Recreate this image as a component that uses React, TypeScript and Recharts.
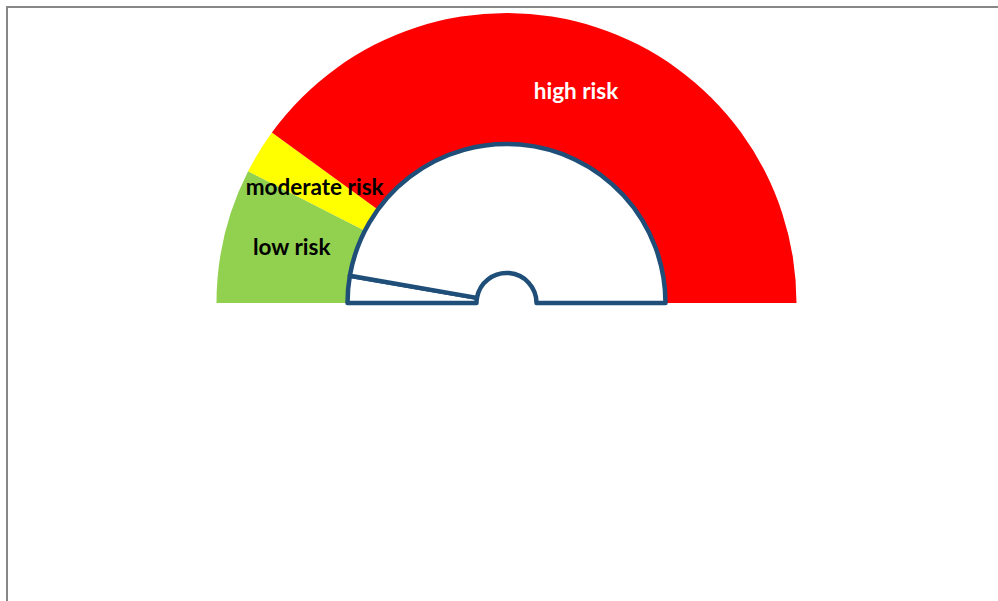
import React from 'react';
import { PieChart, Pie, Cell } from 'recharts';

const riskBands = ['low risk', 'moderate risk', 'high risk'];
const bandValues = [15, 5, 80];
const bandColors = ['#92D050', '#FFFF00', '#FF0000'];
const bandLabelColors = ['#000000', '#000000', '#FFFFFF'];

const pointerParts = ['needle', 'rest'];
const pointerValues = [5.5, 94.5];

const bandData = riskBands.map((name, i) => ({ name, value: bandValues[i] }));
const pointerData = pointerParts.map((name, i) => ({ name, value: pointerValues[i] }));

const RAD = Math.PI / 180;
// small nudges so labels sit where the original put them
const labelNudge = [
  [4, -4],
  [0, 1],
  [0, 1],
];

const renderBandLabel = (props: any) => {
  const { cx, cy, midAngle, innerRadius, outerRadius, index } = props;
  const r = (innerRadius + outerRadius) / 2;
  const x = cx + r * Math.cos(-midAngle * RAD) + labelNudge[index][0];
  const y = cy + r * Math.sin(-midAngle * RAD) + labelNudge[index][1];
  return (
    <text
      x={x}
      y={y}
      textAnchor="middle"
      dominantBaseline="central"
      fill={bandLabelColors[index]}
      fontFamily="Lato, 'Noto Sans', sans-serif"
      fontWeight="bold"
      fontSize={22.5}
    >
      {riskBands[index]}
    </text>
  );
};

export default function App() {
  return (
    <div style={{ position: 'absolute', left: 0, top: 0, width: 998, height: 601, background: '#fff', overflow: 'hidden' }}>
      <svg width={998} height={601} style={{ position: 'absolute', left: 0, top: 0 }}>
        <rect x={7} y={7} width={1200} height={800} fill="none" stroke="#878787" strokeWidth={2} />
      </svg>
      <div style={{ position: 'absolute', left: 0, top: 0 }}>
        <PieChart width={998} height={601} margin={{ top: 0, right: 0, bottom: 0, left: 0 }}>
          <Pie
            data={bandData}
            dataKey="value"
            cx={506.5}
            cy={303}
            startAngle={180}
            endAngle={0}
            innerRadius={160}
            outerRadius={290}
            stroke="none"
            label={renderBandLabel}
            labelLine={false}
            isAnimationActive={false}
          >
            {bandData.map((d, i) => (
              <Cell key={d.name} fill={bandColors[i]} />
            ))}
          </Pie>
          <Pie
            data={pointerData}
            dataKey="value"
            cx={506.5}
            cy={303}
            startAngle={180}
            endAngle={0}
            innerRadius={30}
            outerRadius={159}
            fill="#FFFFFF"
            stroke="#1F4E79"
            strokeWidth={4.5}
            strokeLinejoin="round"
            isAnimationActive={false}
          />
        </PieChart>
      </div>
    </div>
  );
}
